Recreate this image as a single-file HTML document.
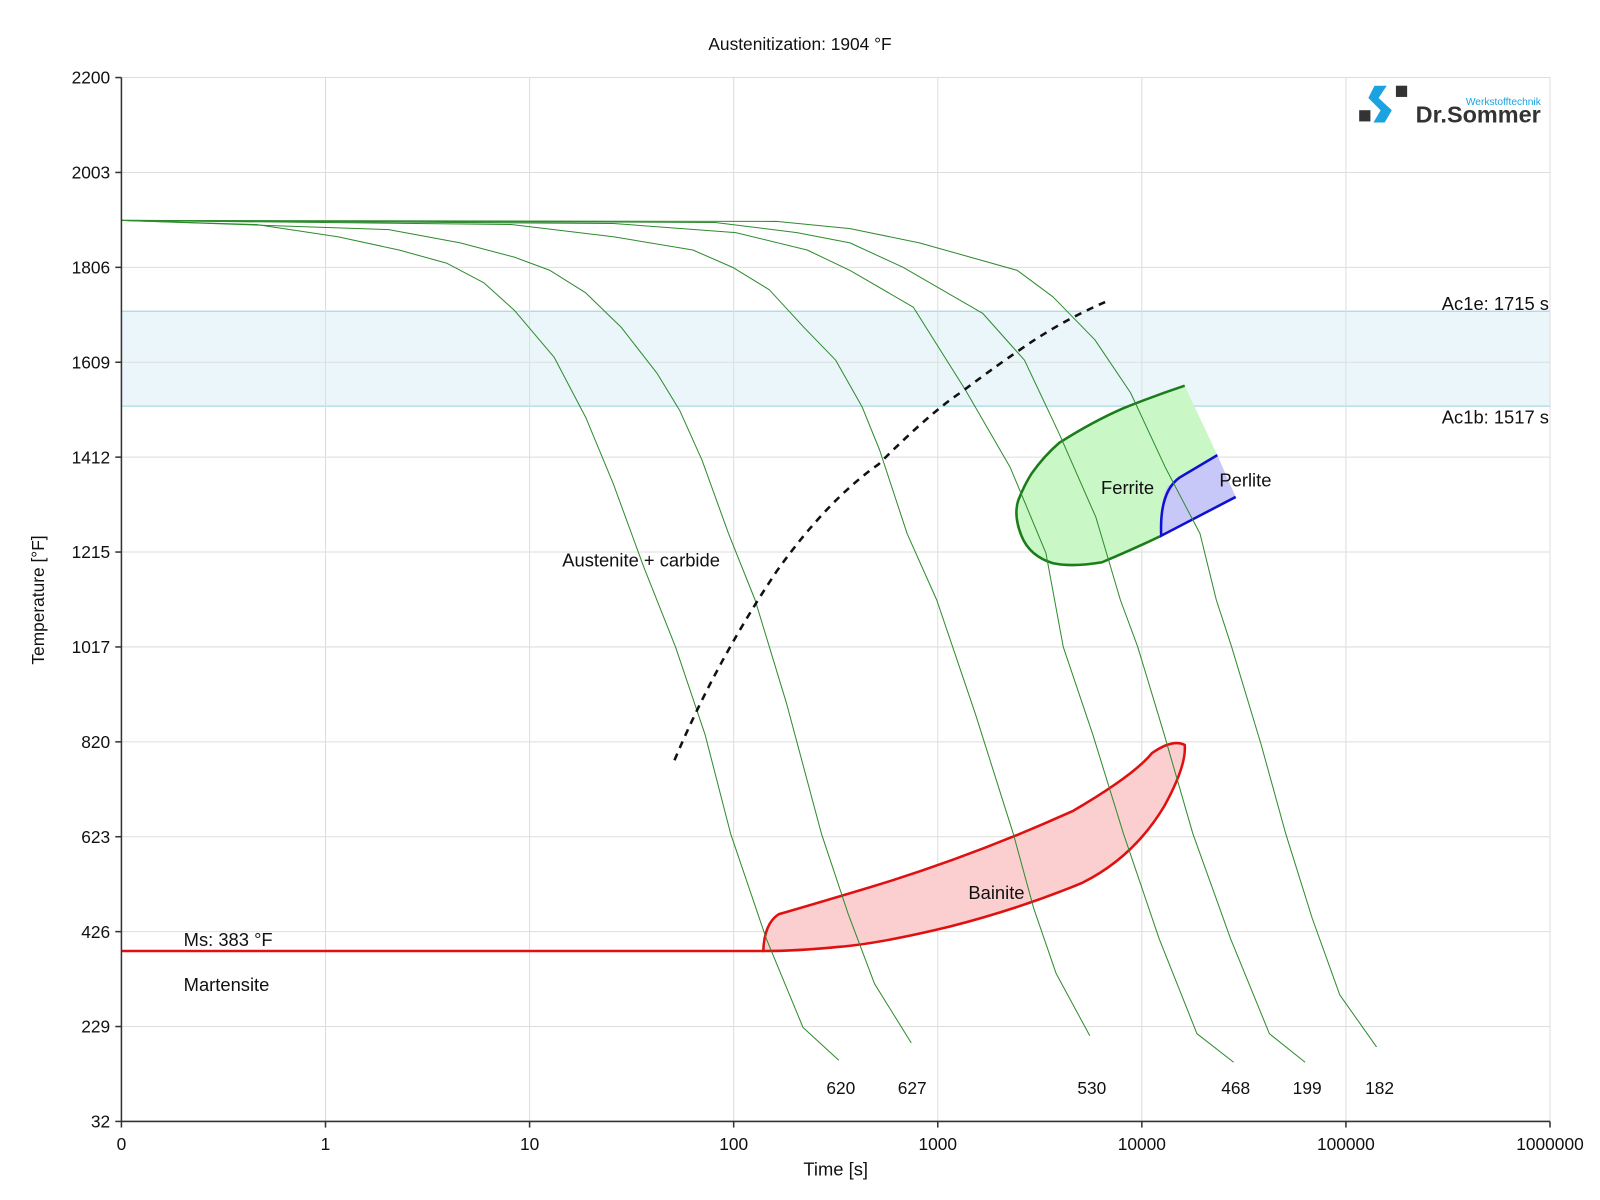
<!DOCTYPE html>
<html><head><meta charset="utf-8"><style>
html,body{margin:0;padding:0;background:#fff;}
svg{display:block;}
text{font-family:"Liberation Sans",sans-serif;fill:#111;}
</style></head><body>
<svg width="1600" height="1200" viewBox="0 0 1566 1176" xmlns="http://www.w3.org/2000/svg">
<rect width="1566" height="1176" fill="#fff"/>
<rect x="118" y="305" width="1400" height="93" fill="#eaf6f9"/>
<line x1="118" y1="305" x2="1518" y2="305" stroke="#a8d8e2" stroke-width="1.2"/>
<line x1="118" y1="398" x2="1518" y2="398" stroke="#a8d8e2" stroke-width="1.2"/>
<g stroke="#dddddd" stroke-width="1">
<line x1="318" y1="76" x2="318" y2="1099"/><line x1="518" y1="76" x2="518" y2="1099"/>
<line x1="718" y1="76" x2="718" y2="1099"/><line x1="918" y1="76" x2="918" y2="1099"/>
<line x1="1118" y1="76" x2="1118" y2="1099"/><line x1="1318" y1="76" x2="1318" y2="1099"/>
<line x1="1518" y1="76" x2="1518" y2="1099"/>
<line x1="118" y1="76" x2="1518" y2="76"/><line x1="118" y1="169" x2="1518" y2="169"/>
<line x1="118" y1="262" x2="1518" y2="262"/><line x1="118" y1="355" x2="1518" y2="355"/>
<line x1="118" y1="448" x2="1518" y2="448"/><line x1="118" y1="541" x2="1518" y2="541"/>
<line x1="118" y1="634" x2="1518" y2="634"/><line x1="118" y1="727" x2="1518" y2="727"/>
<line x1="118" y1="820" x2="1518" y2="820"/><line x1="118" y1="913" x2="1518" y2="913"/>
<line x1="118" y1="1006" x2="1518" y2="1006"/>
</g>
<path d="M1160,378 L1192,446 L1144,476 Q1135,488 1137,525 Q1110,538 1079,551 Q1050,556 1031,552 Q1008,545 1000,525 Q992,505 997,490 Q1003,475 1010,464 Q1022,447 1037,434 Q1070,413 1100,400 Z" fill="#c9f7c6"/>
<path d="M1160,378 Q1130,388 1100,400 Q1070,413 1037,434 Q1022,447 1010,464 Q1003,475 997,490 Q992,505 1000,525 Q1008,545 1031,552 Q1050,556 1079,551 Q1110,538 1137,525" fill="none" stroke="#1a7d1a" stroke-width="2.5"/>
<path d="M1192,446 L1210,487 L1137,525 Q1135,488 1144,476 Z" fill="#c8c8f8"/>
<path d="M1192,446 L1155,468 Q1135,482 1137,525 L1210,487" fill="none" stroke="#1010d0" stroke-width="2.5"/>
<path d="M747,932 Q748,905 762,896 Q800,885 850,870 Q950,840 1050,795 Q1110,760 1128,738 Q1148,724 1160,730 Q1162,750 1140,790 Q1110,840 1060,865 Q1000,890 930,908 Q860,925 820,928 Q780,932 747,932 Z" fill="#fbcfcf" stroke="#e01010" stroke-width="2.5"/>
<line x1="118" y1="932" x2="747" y2="932" stroke="#e01010" stroke-width="2.5"/>
<g fill="none" stroke="#2e8b2e" stroke-width="1" stroke-linejoin="round">
<polyline points="118,216 250,220 330,232 390,245 437,258 473,277 503,304 542,350 573,409 600,474 630,556 661,634 690,720 715,817 750,920 786,1007 821,1039"/>
<polyline points="118,216 380,225 450,238 503,252 538,265 573,287 608,321 643,366 665,402 687,451 713,523 739,588 770,690 804,817 830,895 856,964 892,1022"/>
<polyline points="118,216 500,220 600,232 678,245 717,262 753,284 787,321 818,353 844,399 861,441 888,523 917,588 955,700 992,817 1012,890 1034,954 1067,1015"/>
<polyline points="118,216 600,219 720,228 790,245 832,265 894,301 945,382 989,458 1024,542 1041,634 1070,720 1100,817 1135,920 1172,1013 1208,1041"/>
<polyline points="118,216 700,218 780,228 832,238 884,262 962,307 1003,353 1037,425 1073,507 1097,588 1114,634 1140,720 1168,817 1205,920 1243,1013 1278,1041"/>
<polyline points="118,216 760,217 832,224 900,238 996,265 1031,291 1072,333 1107,385 1141,458 1175,523 1191,588 1206,634 1235,730 1259,817 1285,900 1312,975 1348,1026"/>
</g>
<path d="M660,745 Q700,650 760,560 Q810,490 860,455 Q910,405 940,385 Q980,355 1010,335 Q1045,312 1082,296" fill="none" stroke="#111" stroke-width="2.5" stroke-dasharray="7,6"/>
<g stroke="#333" stroke-width="1.5">
<line x1="118" y1="76" x2="118" y2="1099"/><line x1="118" y1="1099" x2="1518" y2="1099"/>
<line x1="318" y1="1099" x2="318" y2="1105"/><line x1="518" y1="1099" x2="518" y2="1105"/><line x1="718" y1="1099" x2="718" y2="1105"/><line x1="918" y1="1099" x2="918" y2="1105"/><line x1="1118" y1="1099" x2="1118" y2="1105"/><line x1="1318" y1="1099" x2="1318" y2="1105"/><line x1="1518" y1="1099" x2="1518" y2="1105"/><line x1="118" y1="1099" x2="118" y2="1105"/>
<line x1="112" y1="76" x2="118" y2="76"/><line x1="112" y1="169" x2="118" y2="169"/><line x1="112" y1="262" x2="118" y2="262"/><line x1="112" y1="355" x2="118" y2="355"/><line x1="112" y1="448" x2="118" y2="448"/><line x1="112" y1="541" x2="118" y2="541"/><line x1="112" y1="634" x2="118" y2="634"/><line x1="112" y1="727" x2="118" y2="727"/><line x1="112" y1="820" x2="118" y2="820"/><line x1="112" y1="913" x2="118" y2="913"/><line x1="112" y1="1006" x2="118" y2="1006"/><line x1="112" y1="1099" x2="118" y2="1099"/>
</g>
<g font-size="17" text-anchor="end">
<text x="107" y="82">2200</text><text x="107" y="175">2003</text><text x="107" y="268">1806</text><text x="107" y="361">1609</text><text x="107" y="454">1412</text><text x="107" y="547">1215</text><text x="107" y="640">1017</text><text x="107" y="733">820</text><text x="107" y="826">623</text><text x="107" y="919">426</text><text x="107" y="1012">229</text><text x="107" y="1105">32</text>
</g>
<g font-size="17" text-anchor="middle">
<text x="118" y="1127">0</text><text x="318" y="1127">1</text><text x="518" y="1127">10</text><text x="718" y="1127">100</text><text x="918" y="1127">1000</text><text x="1118" y="1127">10000</text><text x="1318" y="1127">100000</text><text x="1518" y="1127">1000000</text>
<text x="818" y="1152" font-size="18">Time [s]</text>
<text x="783" y="49" font-size="17">Austenitization: 1904 °F</text>
<text x="823" y="1072">620</text><text x="893" y="1072">627</text><text x="1069" y="1072">530</text><text x="1210" y="1072">468</text><text x="1280" y="1072">199</text><text x="1351" y="1072">182</text>
</g>
<text x="42" y="588" font-size="17" text-anchor="middle" transform="rotate(-90 42 588)">Temperature [°F]</text>
<g font-size="18">
<text x="1517" y="304" text-anchor="end">Ac1e: 1715 s</text>
<text x="1517" y="415" text-anchor="end">Ac1b: 1517 s</text>
<text x="550" y="555">Austenite + carbide</text>
<text x="1078" y="484">Ferrite</text>
<text x="1194" y="477">Perlite</text>
<text x="948" y="881">Bainite</text>
<text x="179" y="927">Ms: 383 °F</text>
<text x="179" y="971">Martensite</text>
</g>
<rect x="1331" y="108" width="11" height="11" fill="#333"/>
<rect x="1367" y="84" width="11" height="11" fill="#333"/>
<path d="M1346,84 L1358,84 L1350,96 L1363,108 L1356,120 L1345,120 L1352,108 L1340,96 Z" fill="#1aa3e0"/>
<text x="1509" y="103" font-size="10" text-anchor="end" style="fill:#1aa3e0">Werkstofftechnik</text>
<text x="1509" y="120" font-size="23" font-weight="bold" text-anchor="end" style="fill:#333">Dr.Sommer</text>
</svg>
</body></html>
